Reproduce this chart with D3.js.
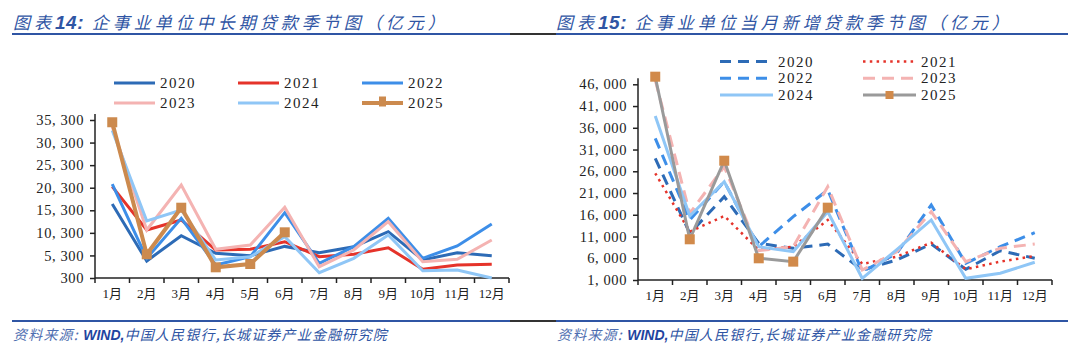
<!DOCTYPE html>
<html>
<head>
<meta charset="utf-8">
<script src="https://cdn.jsdelivr.net/npm/d3@7"></script>
<style>
  body { margin: 0; background: #fff; }
  svg { display: block; }
  .title { font-family: "Noto Sans CJK SC", sans-serif; font-style: italic; fill: #2f55a4; }
  .src { font-family: "Noto Sans CJK SC", sans-serif; font-style: italic; fill: #2f55a4; }
  .tick text, .leg text { font-family: "Liberation Serif", "Noto Sans CJK SC", serif; fill: #222; }
</style>
</head>
<body>
<svg id="chart" width="1080" height="352"></svg>
<script>
"use strict";

// months shared by both charts
var months = ["1月","2月","3月","4月","5月","6月","7月","8月","9月","10月","11月","12月"];
var years = ["2020","2021","2022","2023","2024","2025"];

// chart 14: medium/long term loans (亿元)
var long2020 = [16700, 4070, 9670, 5770, 5240, 7300, 5900, 7230, 10560, 4290, 5900, 5240];
var long2021 = [20530, 10930, 13150, 6500, 6660, 8340, 5020, 5550, 7010, 2230, 3180, 3330];
var long2022 = [21120, 4660, 13520, 3180, 5020, 14770, 3550, 7230, 13520, 4660, 7390, 12260];
var long2023 = [33800, 10930, 20900, 6660, 7610, 15960, 2800, 6500, 12770, 3910, 4430, 8720];
var long2024 = [33000, 12930, 15360, 4290, 5020, 9450, 1470, 4660, 9830, 1920, 2070, 300];
var long2025 = [34800, 5550, 15870, 2670, 3400, 10420];
var longTicks = [300, 5300, 10300, 15300, 20300, 25300, 30300, 35300];

// chart 15: new loans in the month (亿元)
var new2020 = [28980, 11740, 20160, 9440, 8290, 9250, 3300, 5600, 9280, 3460, 7740, 5990];
var new2021 = [25530, 12110, 15720, 7900, 8660, 14800, 4680, 6360, 9580, 3460, 5220, 6520];
var new2022 = [33580, 14800, 23600, 8660, 15560, 21700, 2910, 7130, 18250, 4830, 8660, 11880];
var new2023 = [47000, 16330, 27060, 7740, 8660, 22460, 3300, 7510, 16700, 5220, 8290, 9280];
var new2024 = [38710, 15720, 23600, 8660, 7510, 16700, 1390, 8000, 14800, 1390, 2540, 5070];
var new2025 = [47750, 10360, 28430, 5990, 5220, 17630];
var newTicks = [1000, 6000, 11000, 16000, 21000, 26000, 31000, 36000, 41000, 46000];

var svg = d3.select("#chart");
var fmt = function (v) { return d3.format(",")(v).replace(",", ", "); };

// header / footer rules
function rule(y) {
  svg.append("line").attr("x1", 12).attr("x2", 1068).attr("y1", y).attr("y2", y)
     .attr("stroke", "#333").attr("stroke-width", 2);
  svg.append("line").attr("x1", 12).attr("x2", 510).attr("y1", y).attr("y2", y)
     .attr("stroke", "#2f55a4").attr("stroke-width", 2);
  svg.append("line").attr("x1", 556).attr("x2", 1068).attr("y1", y).attr("y2", y)
     .attr("stroke", "#2f55a4").attr("stroke-width", 2);
}
rule(34);
rule(321);

function title(x, num, rest) {
  var t = svg.append("text").attr("class", "title").attr("x", x).attr("y", 29)
     .style("font-size", "17px").style("letter-spacing", "4px");
  t.append("tspan").text("图表");
  t.append("tspan").style("font-weight", "bold").style("font-family", "'Liberation Sans', sans-serif")
   .style("font-size", "19px").style("letter-spacing", "0.5px").text(num + ":");
  t.append("tspan").text("  " + rest);
}
title(13, "14", "企事业单位中长期贷款季节图（亿元）");
title(556, "15", "企事业单位当月新增贷款季节图（亿元）");

function source(x) {
  var t = svg.append("text").attr("class", "src").attr("x", x).attr("y", 340)
     .style("font-size", "14px").style("letter-spacing", "1.2px");
  t.append("tspan").style("opacity", 0.85).text("资料来源: ");
  t.append("tspan").style("font-weight", "bold").style("font-family", "'Liberation Sans', sans-serif")
   .style("letter-spacing", "0px").attr("fill", "#1f44a0").text("WIND,");
  t.append("tspan").text("中国人民银行,长城证券产业金融研究院");
}
source(13);
source(557);

function drawChart(opt) {
  var g = svg.append("g");
  var x = d3.scaleBand().domain(months).range([opt.left, opt.right]);
  var y = d3.scaleLinear().domain([opt.ticks[0], opt.ticks[opt.ticks.length - 1]])
            .range([opt.bottom, opt.top]);

  // y axis
  var ya = g.append("g").attr("transform", "translate(" + opt.left + ",0)")
    .call(d3.axisLeft(y).tickValues(opt.ticks).tickFormat(fmt).tickSize(5).tickSizeOuter(0).tickPadding(6));
  ya.select(".domain").remove();
  ya.append("line").attr("x1", 0).attr("x2", 0).attr("y1", opt.top - 6).attr("y2", opt.bottom)
    .attr("stroke", "#222").attr("stroke-width", 1.5);
  ya.selectAll(".tick line").attr("stroke", "#222").attr("stroke-width", 1.5);
  ya.selectAll(".tick text").style("font-size", "14.5px").style("letter-spacing", "0.6px");

  // x axis with ticks at band edges
  var xa = g.append("g").attr("transform", "translate(0," + opt.bottom + ")");
  xa.append("line").attr("x1", opt.left).attr("x2", opt.right).attr("stroke", "#222").attr("stroke-width", 1.5);
  var edges = months.map(function (m) { return x(m); }).concat([opt.right]);
  xa.selectAll("line.edge").data(edges).enter().append("line").attr("class", "edge")
    .attr("x1", function (d) { return d; }).attr("x2", function (d) { return d; })
    .attr("y1", 0).attr("y2", 5).attr("stroke", "#222").attr("stroke-width", 1.5);
  xa.selectAll("text").data(months).enter().append("text")
    .attr("x", function (d) { return x(d) + x.bandwidth() / 2; }).attr("y", 20)
    .attr("text-anchor", "middle")
    .style("font-family", "'Liberation Serif', 'Noto Sans CJK SC', serif")
    .style("font-size", "13px").attr("fill", "#222")
    .text(function (d) { return d; });

  var line = d3.line()
    .x(function (d, i) { return x(months[i]) + x.bandwidth() / 2; })
    .y(function (d) { return y(d); });

  opt.series.forEach(function (s) {
    g.append("path").datum(s.values).attr("d", line).attr("fill", "none")
      .attr("stroke", s.color).attr("stroke-width", s.width)
      .attr("stroke-dasharray", s.dash || null)
      .attr("stroke-linejoin", "miter");
    if (s.marker) {
      g.selectAll(null).data(s.values).enter().append("rect")
        .attr("x", function (d, i) { return x(months[i]) + x.bandwidth() / 2 - s.marker / 2; })
        .attr("y", function (d) { return y(d) - s.marker / 2; })
        .attr("width", s.marker).attr("height", s.marker)
        .attr("fill", s.markerColor);
    }
  });

  // legend
  var leg = g.append("g").attr("class", "leg");
  opt.series.forEach(function (s, i) {
    var p = opt.legendPos(i);
    leg.append("line").attr("x1", p[0]).attr("x2", p[0] + opt.legLen).attr("y1", p[1]).attr("y2", p[1])
      .attr("stroke", s.color).attr("stroke-width", s.width)
      .attr("stroke-dasharray", s.dash || null);
    if (s.marker) {
      var m = opt.legMarker;
      leg.append("rect").attr("x", p[0] + opt.legLen / 2 - m / 2)
        .attr("y", p[1] - m / 2 - (opt.markerUp || 0))
        .attr("width", m).attr("height", m + (opt.markerUp || 0))
        .attr("fill", s.markerColor);
    }
    leg.append("text").attr("x", p[0] + opt.legLen + 5).attr("y", p[1] + 5)
      .style("font-size", "15px").style("letter-spacing", "1.5px").text(years[i]);
  });
}

drawChart({
  left: 95, right: 509, top: 120, bottom: 278,
  ticks: longTicks,
  legLen: 41,
  legMarker: 7,
  markerUp: 3,
  legendPos: function (i) {
    var col = i % 3, row = Math.floor(i / 3);
    return [[114, 238, 362][col], [83, 103][row]];
  },
  series: [
    { values: long2020, color: "#2d6bb6", width: 3 },
    { values: long2021, color: "#e5332a", width: 3 },
    { values: long2022, color: "#3d8ee8", width: 3 },
    { values: long2023, color: "#f4b3b2", width: 3 },
    { values: long2024, color: "#8fc6f6", width: 3 },
    { values: long2025, color: "#cc8a4e", width: 4, marker: 10, markerColor: "#cc8a4e" }
  ]
});

drawChart({
  left: 638, right: 1052, top: 84.3, bottom: 280,
  ticks: newTicks,
  legLen: 53,
  legMarker: 8,
  legendPos: function (i) {
    var col = i % 2, row = Math.floor(i / 2);
    return [[720, 863][col], [61.5, 78.3, 95][row]];
  },
  series: [
    { values: new2020, color: "#2d6bb6", width: 3, dash: "11,7" },
    { values: new2021, color: "#e5332a", width: 2.5, dash: "2.5,4.3" },
    { values: new2022, color: "#3d8ee8", width: 3, dash: "11,7" },
    { values: new2023, color: "#f4b3b2", width: 3, dash: "12,7" },
    { values: new2024, color: "#8fc6f6", width: 3 },
    { values: new2025, color: "#9a9a9a", width: 3, marker: 10, markerColor: "#d18a4b" }
  ]
});
</script>
</body>
</html>
